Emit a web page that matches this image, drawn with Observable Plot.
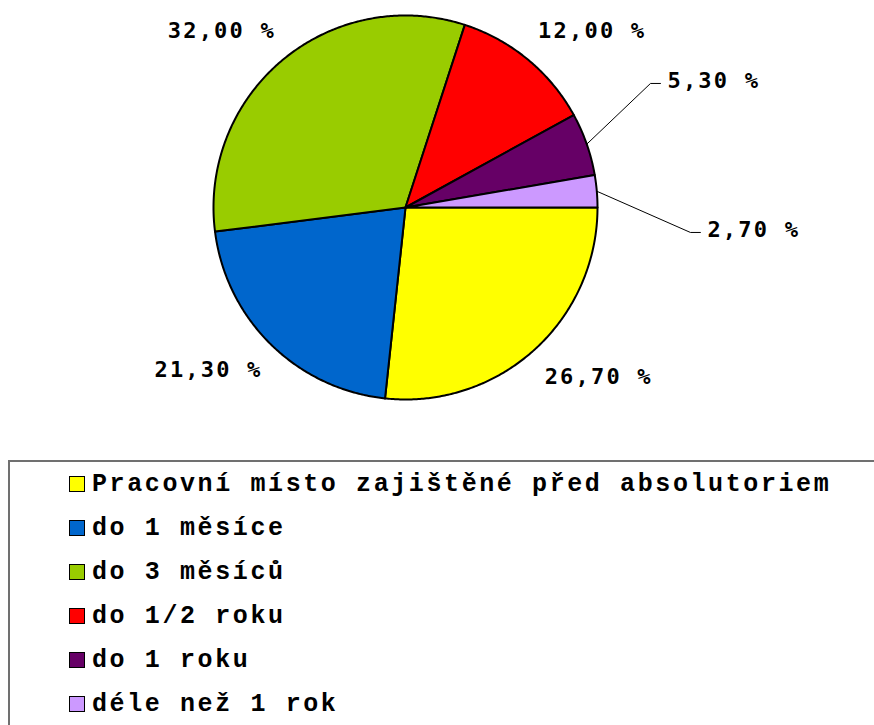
<!DOCTYPE html>
<html>
<head>
<meta charset="utf-8">
<script src="https://cdn.jsdelivr.net/npm/d3@7"></script>
<script src="https://cdn.jsdelivr.net/npm/@observablehq/plot@0.6"></script>
<style>
  html, body { margin: 0; padding: 0; background: #fff; overflow: hidden; width: 874px; height: 725px; }
  #chart svg { display: block; }
  #legend {
    position: absolute; left: 8px; top: 460px; width: 900px; height: 300px;
    border: 2px solid #707070; box-sizing: border-box; padding-left: 59px; padding-top: 0;
    font-family: "Liberation Mono", "Courier New", monospace; font-weight: bold;
    font-size: 25px; letter-spacing: 2.6px; color: #000;
  }
  .row { height: 44px; display: flex; align-items: center; }
  .sw { width: 16px; height: 16px; border: 1.5px solid #000; box-sizing: border-box; margin-right: 7px; flex: none; }
</style>
</head>
<body>
<div id="chart"></div>
<div id="legend"></div>
<script>
// ---- data ----
const categories = [
  "Pracovní místo zajištěné před absolutoriem",
  "do 1 měsíce",
  "do 3 měsíců",
  "do 1/2 roku",
  "do 1 roku",
  "déle než 1 rok"
];
const values = [26.7, 21.3, 32.0, 12.0, 5.3, 2.7];
const colors = ["#FFFF00", "#0066CC", "#99CC00", "#FF0000", "#660066", "#CC99FF"];

// ---- layout (callout elbows for small slices, in pie-radius units) ----
const callouts = {
  "do 1 roku": {ex: 1.276, ey: 0.646},
  "déle než 1 rok": {ex: 1.484, ey: -0.130}
};
const hookLen = 0.052;

const fmt = v => v.toFixed(2).replace(".", ",") + " %";
const total = d3.sum(values);

// angles: clockwise from east (screen), y up in data space
const slices = [];
let acc = 0;
categories.forEach((c, i) => {
  const a0 = acc / total * 2 * Math.PI;
  acc += values[i];
  const a1 = acc / total * 2 * Math.PI;
  slices.push({cat: c, value: values[i], a0, a1, mid: (a0 + a1) / 2});
});
const pt = (a, r) => ({x: r * Math.cos(a), y: -r * Math.sin(a)});

const polys = [];
for (const s of slices) {
  polys.push({cat: s.cat, x: 0, y: 0});
  const n = Math.max(2, Math.ceil((s.a1 - s.a0) / (Math.PI / 360)));
  for (let k = 0; k <= n; k++) {
    const p = pt(s.a0 + (s.a1 - s.a0) * k / n, 1);
    polys.push({cat: s.cat, ...p});
  }
  polys.push({cat: s.cat, x: 0, y: 0});
}

const normal = slices.filter(s => !callouts[s.cat]).map(s => {
  const p = pt(s.mid, 1.1);
  return {...s, ...p, label: fmt(s.value), right: p.x >= 0, low: p.y < 0};
});
const leaders = [];
const calloutLabels = [];
for (const s of slices.filter(s => callouts[s.cat])) {
  const c = callouts[s.cat];
  const e = pt(s.mid, 1);
  leaders.push({cat: s.cat, ...e});
  leaders.push({cat: s.cat, x: c.ex, y: c.ey});
  leaders.push({cat: s.cat, x: c.ex + hookLen, y: c.ey});
  calloutLabels.push({x: c.ex + hookLen, y: c.ey, label: fmt(s.value)});
}

const labelFont = {fontFamily: "DejaVu Sans Mono", fontWeight: "bold", fontSize: 22, fill: "black"};
const quad = (right, low) => Plot.text(normal.filter(d => d.right === right && d.low === low), {
  x: "x", y: "y", text: "label",
  textAnchor: right ? "start" : "end",
  dx: right ? -2 : 5,
  dy: low ? 12 : -14,
  ...labelFont
});

const chart = Plot.plot({
  width: 874, height: 460,
  marginLeft: 213, marginRight: 277, marginTop: 15, marginBottom: 61,
  x: {domain: [-1, 1], axis: null},
  y: {domain: [-1, 1], axis: null},
  color: {domain: categories, range: colors},
  style: {letterSpacing: "2.2px", background: "white"},
  marks: [
    Plot.line(polys, {x: "x", y: "y", z: "cat", fill: "cat", stroke: "black", strokeWidth: 2, curve: "linear", strokeLinejoin: "round"}),
    Plot.line(leaders, {x: "x", y: "y", z: "cat", stroke: "black", strokeWidth: 1, curve: "linear"}),
    quad(true, true), quad(true, false), quad(false, true), quad(false, false),
    Plot.text(calloutLabels, {x: "x", y: "y", text: "label", textAnchor: "start", dx: 7, dy: -3, ...labelFont})
  ]
});
document.getElementById("chart").appendChild(chart);

const legend = document.getElementById("legend");
categories.forEach((c, i) => {
  const row = document.createElement("div");
  row.className = "row";
  const sw = document.createElement("span");
  sw.className = "sw";
  sw.style.background = colors[i];
  const t = document.createElement("span");
  t.textContent = c;
  row.appendChild(sw);
  row.appendChild(t);
  legend.appendChild(row);
});
</script>
</body>
</html>
